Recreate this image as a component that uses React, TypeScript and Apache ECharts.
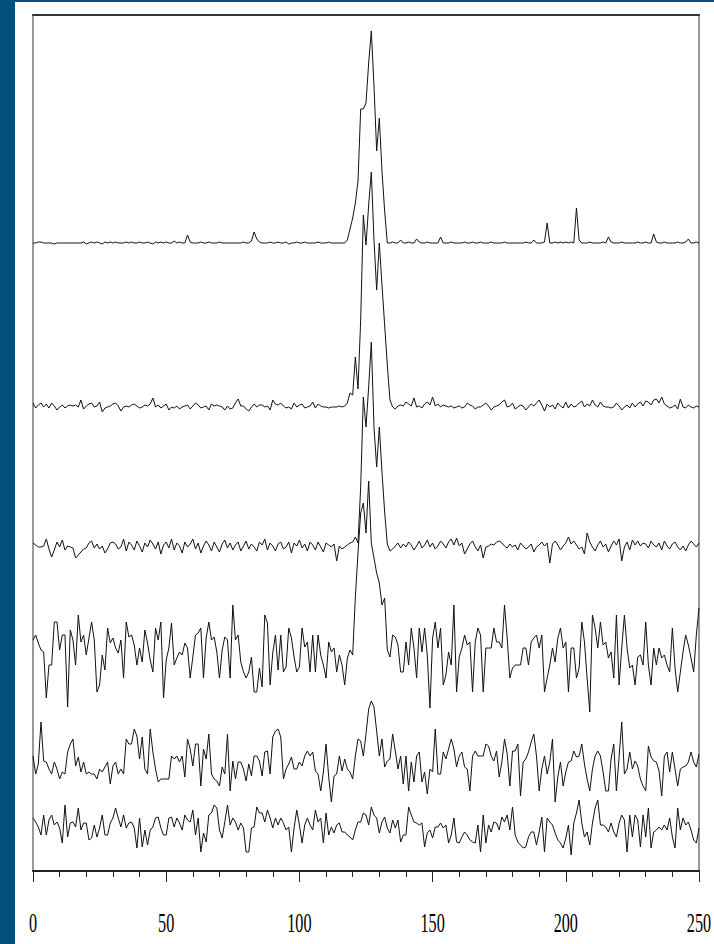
import React, { useEffect, useRef } from "react";
import * as echarts from "echarts";

const X_MIN = 0;
const X_MAX = 250;
const TICK_LABELS = [0, 50, 100, 150, 200, 250];
// vertical offset of each stacked trace (data units)
const TRACE_OFFSETS = [628, 464, 324, 218, 104, 44];

const TRACE_1 = [
  0,0,1,1,0,0,0,0,-1,0,
  0,0,0,0,0,0,0,0,0,1,
  -1,0,1,0,1,0,-1,1,0,1,
  0,1,0,0,0,1,0,1,0,0,
  1,0,0,1,0,-1,1,0,1,0,
  1,0,0,2,0,1,0,0,8,1,
  0,0,0,1,0,0,1,0,0,0,
  1,0,0,0,0,0,0,0,0,1,
  0,0,2,11,4,1,0,0,0,1,
  0,0,1,0,0,1,-1,0,0,1,
  0,0,1,0,0,0,0,1,0,0,
  0,1,0,0,0,0,0,0,3,14,
  25,40,62,134,134,140,180,212,157,92,
  125,72,32,0,0,1,0,0,3,0,
  0,1,0,0,4,1,0,0,1,0,
  0,0,0,6,0,0,0,1,0,0,
  0,0,1,0,0,1,0,0,1,0,
  0,0,1,0,0,0,0,1,0,0,
  0,0,0,0,0,1,0,0,3,0,
  0,0,1,20,0,0,1,0,1,0,
  1,0,1,0,35,3,0,0,0,1,
  0,0,0,0,1,0,6,1,0,0,
  0,1,0,0,0,0,0,1,0,0,
  1,0,0,9,1,0,0,1,0,0,
  0,0,1,0,0,1,4,0,0,1,
  0,
];

const TRACE_2 = [
  4,-1,2,4,0,3,-1,4,1,-3,
  0,2,-1,1,2,1,2,0,7,-2,
  1,3,4,0,1,5,-5,-1,0,1,
  3,4,1,-4,0,1,0,2,3,1,
  -1,0,2,1,3,9,0,2,-1,1,
  3,-3,0,-1,1,-2,0,1,2,-2,
  1,4,2,-1,0,1,-3,3,1,2,
  1,0,-3,1,-2,-1,4,8,1,1,
  -2,-4,0,3,0,2,2,0,1,-3,
  7,3,2,4,1,-1,0,-2,4,0,
  2,3,-1,0,1,5,-1,3,1,0,
  0,-1,0,0,0,1,0,1,4,14,
  12,50,18,87,192,162,202,235,167,117,
  164,122,82,42,7,0,-2,1,2,1,
  5,3,1,9,0,1,-1,3,5,2,
  10,1,3,0,2,1,0,1,-1,0,
  1,-1,0,4,2,1,-2,0,0,2,
  4,1,-3,0,1,2,5,7,0,1,
  4,-2,0,2,1,-3,0,3,1,4,
  7,2,-4,3,0,2,-2,4,1,-1,
  5,-1,3,0,1,4,6,0,3,1,
  7,2,0,5,1,0,0,-1,0,4,
  1,-3,0,2,-1,4,0,3,5,1,
  6,5,2,7,8,4,10,3,1,-1,
  0,2,-2,8,0,-1,2,0,-1,1,
  0,
];

const TRACE_3 = [
  4,2,0,0,1,8,-2,-10,-3,5,
  0,7,-3,1,0,-1,-11,-8,-5,-2,
  -1,4,6,-1,3,-2,1,-6,-2,4,
  5,3,-2,0,8,-4,5,2,-3,6,
  1,-5,4,0,7,3,-2,5,-7,2,
  5,-1,8,-3,4,1,-6,5,0,3,
  8,-2,4,-6,1,6,2,-4,5,0,
  -5,3,7,-1,4,-3,2,5,-4,1,
  6,-2,3,0,-4,5,2,8,-3,4,
  1,-4,3,5,-2,0,5,-6,4,1,
  7,-1,3,-4,5,2,-3,5,0,-5,
  4,2,0,3,-14,1,-2,0,2,4,
  5,10,4,60,150,120,160,205,120,80,
  120,75,35,3,-4,-2,1,4,-1,3,
  0,5,2,-3,1,6,-1,2,7,0,
  4,-2,1,6,3,-1,5,8,2,9,
  1,4,-7,-2,3,6,0,-4,2,-11,
  0,1,3,2,5,6,4,1,-1,3,
  0,2,-3,4,1,-2,0,3,-5,0,
  2,5,1,4,-16,3,6,2,-3,1,
  4,10,3,6,2,-2,0,-7,14,5,
  0,-4,2,6,0,3,-5,1,6,2,
  8,-14,0,5,-3,7,2,6,1,4,
  3,-1,6,2,0,4,-3,6,1,-2,
  3,5,0,-3,1,-4,2,6,3,0,
  4,
];

const TRACE_4 = [
  13,18,10,3,1,-45,-12,-12,31,31,
  3,18,18,-54,23,13,-12,38,11,18,
  -2,15,31,13,-39,-32,-2,-17,25,10,
  15,5,0,13,-25,31,16,18,8,-12,
  5,-9,23,10,-7,-19,25,13,31,-45,
  -7,5,30,-12,-5,1,-2,10,5,-25,
  -4,18,20,25,-25,15,31,13,16,1,
  -25,3,16,13,-25,48,13,18,-9,-19,
  -25,-19,-4,-39,-39,-15,-34,38,30,-32,
  0,18,-17,18,-19,-14,25,15,-4,-19,
  -14,25,6,11,-19,18,-19,18,-2,-12,
  -25,11,1,5,-19,-2,-12,-32,-5,3,
  -2,56,100,140,150,120,172,110,95,80,
  70,48,55,3,-4,18,16,8,-19,-19,
  11,-12,25,5,-25,25,1,25,-2,-55,
  15,31,5,25,-32,-22,1,-12,48,-39,
  -4,5,18,8,11,-39,11,25,18,-39,
  5,5,5,25,11,11,5,48,15,-25,
  -15,-12,-12,-12,5,5,-12,11,15,18,
  5,18,-39,-25,-12,5,-9,15,25,5,
  11,-39,5,5,-25,-15,31,11,-25,-59,
  38,25,5,31,8,11,-5,1,-25,38,
  -32,5,38,5,-15,-12,-32,-4,-2,-12,
  31,-12,-32,5,-12,5,-5,-2,-12,-19,
  25,-15,-39,-19,1,18,8,-5,-19,18,
  45,
];

const TRACE_5 = [
  11,-7,3,45,6,5,-2,-7,5,-2,
  -12,-5,-7,15,23,28,1,10,-5,5,
  -7,-5,-7,-7,-12,-2,-5,0,5,-17,
  1,5,-7,-2,-7,28,23,23,38,31,
  8,30,-2,-7,38,15,-2,-15,-12,-12,
  -12,-12,11,8,11,5,11,-10,28,18,
  1,23,23,-19,18,8,33,-7,-12,-14,
  -19,0,-7,33,-24,6,-12,5,5,-2,
  -14,3,-9,11,11,6,-9,15,16,-7,
  30,36,38,30,-12,-2,3,10,-2,-2,
  5,1,11,16,11,15,-4,-7,-24,-5,
  23,-10,-35,-9,-7,11,-4,8,-2,-5,
  -12,11,28,26,11,33,58,66,60,36,
  11,28,0,6,8,33,16,-2,11,-17,
  11,-24,5,-15,11,15,-15,-5,-27,-2,
  -5,38,-7,-7,15,8,18,28,18,0,
  11,15,0,-2,-24,11,16,11,11,11,
  23,21,11,6,16,-10,5,28,13,-19,
  16,16,23,-29,5,8,15,25,33,11,
  -24,-2,11,-7,5,28,-35,-10,5,-19,
  -5,5,6,16,10,11,23,3,-12,-24,
  -2,11,16,11,-5,-24,-24,8,23,-24,
  10,45,-7,-2,15,-2,6,1,-12,-19,
  -24,21,10,6,5,-4,-29,11,15,-5,
  15,-2,-19,-2,0,1,5,15,5,0,
  13,
];

const TRACE_6 = [
  9,5,0,-8,12,-8,7,12,2,5,
  -1,-16,22,-10,4,5,0,19,-3,4,
  4,-13,-11,2,-10,-1,12,-8,-8,4,
  9,19,9,0,12,-1,4,5,-1,-21,
  9,-20,-3,-18,-3,0,9,10,-1,-8,
  -8,9,10,0,9,4,-3,12,7,5,
  17,-8,9,-25,-6,-15,12,14,22,19,
  -3,-11,5,22,2,9,5,-3,4,-1,
  -25,-25,-1,0,20,14,14,5,17,9,
  -1,9,2,9,4,-3,0,-25,-1,17,
  2,-16,2,9,2,-3,17,5,9,-16,
  14,-8,0,-6,2,4,-5,-5,-8,-10,
  -13,-3,5,5,14,12,2,20,12,9,
  -6,5,10,-1,-6,7,-1,7,-15,-8,
  -8,20,12,5,4,2,4,-20,-6,-3,
  -11,0,0,4,-1,2,-16,-8,9,-15,
  -16,-10,-5,-8,-13,-15,-16,2,-25,12,
  -16,2,-5,5,4,-3,10,5,12,-3,
  20,-8,-15,-18,-21,-20,-10,-5,-5,-18,
  -5,10,-25,9,5,2,-6,-13,-16,-21,
  -11,2,-28,4,14,27,4,-10,-5,-18,
  4,19,27,2,2,0,-5,4,-5,-10,
  4,12,7,-25,12,-10,12,7,-20,12,
  -10,19,-21,-5,-3,0,-3,2,-3,9,
  -10,-21,19,-3,9,2,5,-3,-13,-16,
  -1,
];

const TRACES = [TRACE_1, TRACE_2, TRACE_3, TRACE_4, TRACE_5, TRACE_6];

export default function App() {
  const ref = useRef<HTMLDivElement>(null);

  useEffect(() => {
    document.body.style.margin = "0";
    const el = ref.current;
    if (!el) return;
    const chart = echarts.init(el, null, { renderer: "svg" });

    const series = TRACES.map((t, k) => ({
      type: "line",
      data: t.map((v, i) => [i, v + TRACE_OFFSETS[k]]),
      showSymbol: false,
      symbol: "none",
      silent: true,
      lineStyle: { color: "#111", width: 1 },
    }));

    const hiddenAxisBits = {
      axisTick: { show: false },
      axisLabel: { show: false },
      splitLine: { show: false },
    };

    chart.setOption({
      animation: false,
      backgroundColor: "#ffffff",
      grid: { left: 18, right: 15, top: 13, bottom: 73 },
      xAxis: [
        {
          type: "value",
          min: X_MIN,
          max: X_MAX,
          interval: 50,
          position: "bottom",
          axisLine: { show: true, onZero: false, lineStyle: { color: "#222", width: 2 } },
          axisTick: { show: true, length: 11, lineStyle: { color: "#222", width: 1 } },
          minorTick: { show: true, splitNumber: 5, length: 6, lineStyle: { color: "#222", width: 1 } },
          axisLabel: { show: false },
          splitLine: { show: false },
        },
        {
          type: "value",
          min: X_MIN,
          max: X_MAX,
          position: "top",
          axisLine: { show: true, onZero: false, lineStyle: { color: "#333", width: 2 } },
          ...hiddenAxisBits,
        },
      ],
      yAxis: [
        {
          type: "value",
          min: 0,
          max: 856,
          position: "left",
          axisLine: { show: true, onZero: false, lineStyle: { color: "#999", width: 2 } },
          ...hiddenAxisBits,
        },
        {
          type: "value",
          min: 0,
          max: 856,
          position: "right",
          axisLine: { show: true, onZero: false, lineStyle: { color: "#999", width: 2 } },
          ...hiddenAxisBits,
        },
      ],
      series,
    });

    const labelY = 921;
    chart.setOption({
      graphic: TICK_LABELS.map((v) => {
        const px = chart.convertToPixel({ xAxisIndex: 0 }, v) as number;
        return {
          type: "text",
          x: px,
          y: labelY,
          scaleX: 0.6,
          silent: true,
          style: {
            text: String(v),
            fontFamily: "'Liberation Serif', 'Times New Roman', serif",
            fontSize: 27,
            fill: "#000",
            textAlign: "center",
            textVerticalAlign: "middle",
          },
        };
      }),
    });

    return () => chart.dispose();
  }, []);

  return (
    <div
      style={{
        position: "absolute",
        left: 0,
        top: 0,
        width: 714,
        height: 944,
        background: "#02507E",
        overflow: "hidden",
      }}
    >
      <div
        ref={ref}
        style={{
          position: "absolute",
          left: 15,
          top: 2,
          width: 699,
          height: 942,
          background: "#ffffff",
        }}
      />
    </div>
  );
}
